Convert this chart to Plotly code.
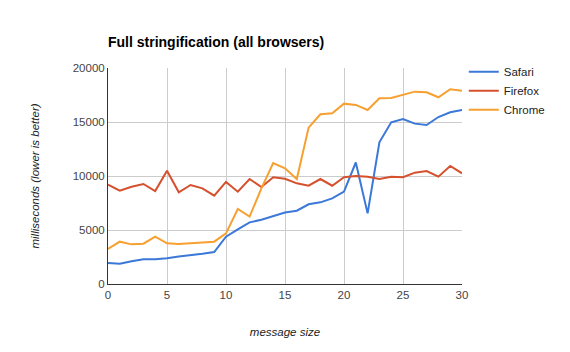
import plotly.graph_objects as go

x = list(range(31))
safari = [1950, 1870, 2100, 2290, 2300, 2380, 2550, 2650, 2800, 2960, 4380, 5060, 5710, 5950, 6300, 6620,
          6790, 7380, 7560, 7930, 8550, 11250, 6540, 13120, 14970, 15280, 14850, 14720, 15460, 15900, 16110]
firefox = [9200, 8640, 9010, 9260, 8610, 10490, 8490, 9170, 8860, 8180, 9450, 8550, 9720, 8980, 9880, 9750,
           9320, 9100, 9720, 9100, 9880, 10000, 9940, 9720, 9940, 9880, 10310, 10460, 9940, 10930, 10250]
chrome = [3240, 3920, 3670, 3730, 4380, 3770, 3700, 3770, 3890, 3920, 4690, 6950, 6240, 8860, 11200, 10710,
          9720, 14480, 15710, 15800, 16700, 16580, 16110, 17190, 17220, 17500, 17810, 17750, 17290, 18030, 17900]
y_ticks = [0, 5000, 10000, 15000, 20000]
x_ticks = [0, 5, 10, 15, 20, 25, 30]

series = [("Safari", safari, "#3b78d8"), ("Firefox", firefox, "#d5502c"), ("Chrome", chrome, "#f7a030")]

fig = go.Figure()
for name, ys, c in series:
    fig.add_trace(go.Scatter(x=x, y=ys, name=name, mode="lines", line=dict(color=c, width=2)))

font = "Liberation Sans, Arial, sans-serif"
fig.update_layout(
    width=570, height=352,
    margin=dict(l=108, r=108, t=68, b=68),
    paper_bgcolor="white", plot_bgcolor="white",
    font=dict(family=font, size=11.5, color="#444"),
    title=dict(text="<b>Full stringification (all browsers)</b>", x=108/570, xanchor="left",
               y=1 - 42/352, yanchor="middle", font=dict(size=14, color="#000", family=font)),
    legend=dict(x=1.005, y=1.05, xanchor="left", yanchor="top", font=dict(size=11.5, color="#222"),
                tracegroupgap=0, itemwidth=30, bgcolor="rgba(0,0,0,0)"),
    xaxis=dict(range=[0, 30], tickvals=x_ticks, showgrid=True, gridcolor="#cccccc",
               zeroline=False, showline=True, linecolor="#333", linewidth=1, ticks="",
               title=dict(text="<i>message size</i>", standoff=28, font=dict(size=11.5, color="#222")),
               tickfont=dict(size=11.5, color="#444")),
    yaxis=dict(range=[0, 20000], tickvals=y_ticks, ticktext=[str(v) for v in y_ticks], showgrid=True,
               gridcolor="#cccccc",
               zeroline=False, showline=True, linecolor="#333", linewidth=1, ticks="",
               title=dict(text="<i>milliseconds (lower is better)</i>", standoff=30, font=dict(size=11.5, color="#222")),
               tickfont=dict(size=11.5, color="#444")),
)
fig.write_html("out.html")
